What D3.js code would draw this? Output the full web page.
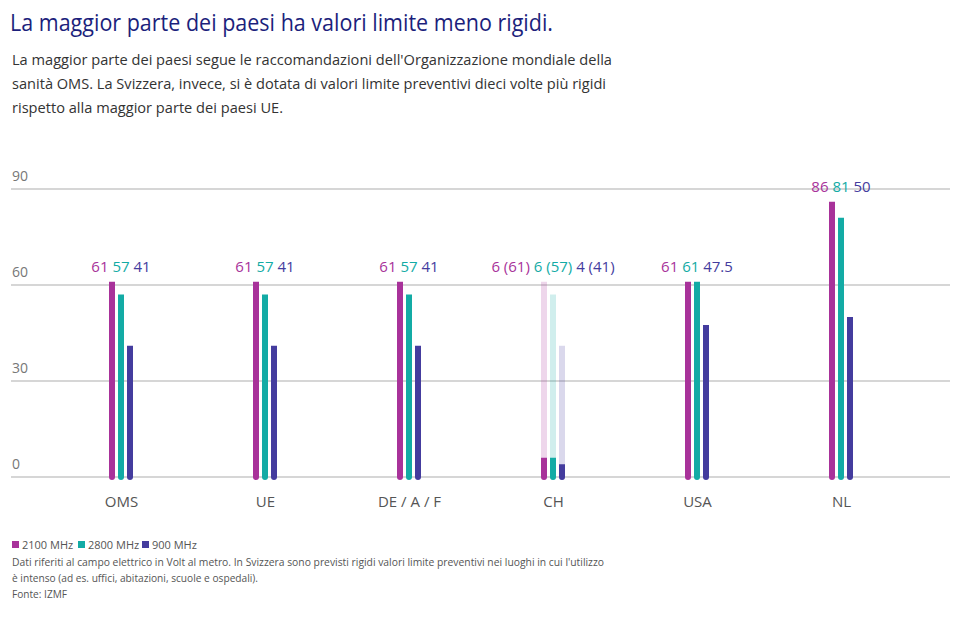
<!DOCTYPE html>
<html>
<head>
<meta charset="utf-8">
<script src="https://cdn.jsdelivr.net/npm/d3@7"></script>
<style>
  html, body { margin: 0; padding: 0; background: #fff; }
  svg { display: block; font-family: "Open Sans", "Noto Sans", sans-serif; }
</style>
</head>
<body>
<svg id="chart" width="969" height="624"></svg>
<script>
// ---- Data ----
const categories = ["OMS", "UE", "DE / A / F", "CH", "USA", "NL"];
const seriesNames = ["2100 MHz", "2800 MHz", "900 MHz"];
const values2100 = [61, 61, 61, 6, 61, 86];
const values2800 = [57, 57, 57, 6, 61, 81];
const values900  = [41, 41, 41, 4, 47.5, 50];
// Reference (non-preventive) limits shown faded for Switzerland
const ref2100 = [null, null, null, 61, null, null];
const ref2800 = [null, null, null, 57, null, null];
const ref900  = [null, null, null, 41, null, null];
const yTicks = [0, 30, 60, 90];

const titleText = "La maggior parte dei paesi ha valori limite meno rigidi.";
const subtitleLines = [
  "La maggior parte dei paesi segue le raccomandazioni dell'Organizzazione mondiale della",
  "sanità OMS. La Svizzera, invece, si è dotata di valori limite preventivi dieci volte più rigidi",
  "rispetto alla maggior parte dei paesi UE."
];
const noteLines = [
  "Dati riferiti al campo elettrico in Volt al metro. In Svizzera sono previsti rigidi valori limite preventivi nei luoghi in cui l'utilizzo",
  "è intenso (ad es. uffici, abitazioni, scuole e ospedali).",
  "Fonte: IZMF"
];

// ---- Styles ----
const colors = ["#a8329a", "#13aba5", "#443c9e"];
const seriesValues = [values2100, values2800, values900];
const seriesRefs = [ref2100, ref2800, ref900];

const svg = d3.select("#chart");

// helper: fit text to a target width
function fit(sel, w) {
  sel.each(function() {
    const len = this.getComputedTextLength();
    if (Math.abs(len - w) > 1) {
      d3.select(this).attr("textLength", w).attr("lengthAdjust", "spacingAndGlyphs");
    }
  });
}

// Title
svg.append("text").attr("x", 10).attr("y", 31)
  .attr("font-size", 23).attr("fill", "#1c1f7c")
  .text(titleText).call(fit, 543);

// Subtitle
const subWidths = [600, 594, 271];
subtitleLines.forEach((t, i) => {
  svg.append("text").attr("x", 12).attr("y", 65 + i * 24)
    .attr("font-size", 15).attr("fill", "#333")
    .text(t).call(fit, subWidths[i]);
});

// Scales
const y = d3.scaleLinear().domain([0, 90]).range([477, 189]);
const x = d3.scalePoint().domain(categories).range([121, 841]);
const xs = d3.scaleBand().domain(seriesNames).range([-12, 12]).paddingInner(1/3);

// Grid + tick labels
const grid = svg.append("g");
grid.selectAll("line").data(yTicks).join("line")
  .attr("x1", 11).attr("x2", 950)
  .attr("y1", d => y(d)).attr("y2", d => y(d))
  .attr("stroke", "#c9c9c9").attr("stroke-width", 1.3);
grid.selectAll("text").data(yTicks).join("text")
  .attr("x", 12).attr("y", d => y(d) - 8)
  .attr("font-size", 14).attr("fill", "#777")
  .text(d => d);

// Category axis labels
const xAxis = d3.axisBottom(x).tickSize(0).tickPadding(0);
const gx = svg.append("g").attr("transform", "translate(0,507)").call(xAxis);
gx.select(".domain").remove();
gx.selectAll("text").attr("font-size", 15).attr("fill", "#555")
  .attr("font-family", "Open Sans, Noto Sans, sans-serif").attr("dy", 0);

// bar path with rounded bottom
function barPath(x0, w, yTop, yBase) {
  const r = w / 2;
  return `M${x0},${yTop}H${x0 + w}V${yBase}A${r},${r} 0 0 1 ${x0},${yBase}Z`;
}

const bw = xs.bandwidth();
const base = y(0);

// bars
seriesNames.forEach((s, si) => {
  const g = svg.append("g");
  // faded reference bars
  g.selectAll("path.ref").data(categories.map((c, i) => ({c, v: seriesRefs[si][i]})).filter(d => d.v != null))
    .join("path").attr("class", "ref")
    .attr("d", d => barPath(x(d.c) + xs(s), bw, y(d.v), base))
    .attr("fill", colors[si]).attr("opacity", 0.2);
  g.selectAll("path.val").data(categories.map((c, i) => ({c, v: seriesValues[si][i]})))
    .join("path").attr("class", "val")
    .attr("d", d => barPath(x(d.c) + xs(s), bw, y(d.v), base))
    .attr("fill", colors[si]);
});

// value labels
categories.forEach((c, i) => {
  const maxV = d3.max(seriesNames.map((s, si) => seriesRefs[si][i] != null ? seriesRefs[si][i] : seriesValues[si][i]));
  const t = svg.append("text").attr("x", x(c)).attr("y", y(maxV) - 10)
    .attr("text-anchor", "middle").attr("font-size", 15);
  seriesNames.forEach((s, si) => {
    const v = seriesValues[si][i];
    const r = seriesRefs[si][i];
    t.append("tspan").attr("fill", colors[si])
      .text((si > 0 ? " " : "") + v + (r != null ? " (" + r + ")" : ""));
  });
});

// legend
const legendX = [12, 78, 142];
seriesNames.forEach((s, si) => {
  svg.append("rect").attr("x", legendX[si]).attr("y", 541).attr("width", 7).attr("height", 7)
    .attr("fill", colors[si]);
  svg.append("text").attr("x", legendX[si] + 10).attr("y", 549)
    .attr("font-size", 11).attr("fill", "#555").text(s);
});

// notes
const noteWidths = [592, 246, 55];
noteLines.forEach((t, i) => {
  svg.append("text").attr("x", 12).attr("y", 566 + i * 16)
    .attr("font-size", 11).attr("fill", "#555")
    .text(t).call(fit, noteWidths[i]);
});
</script>
</body>
</html>
